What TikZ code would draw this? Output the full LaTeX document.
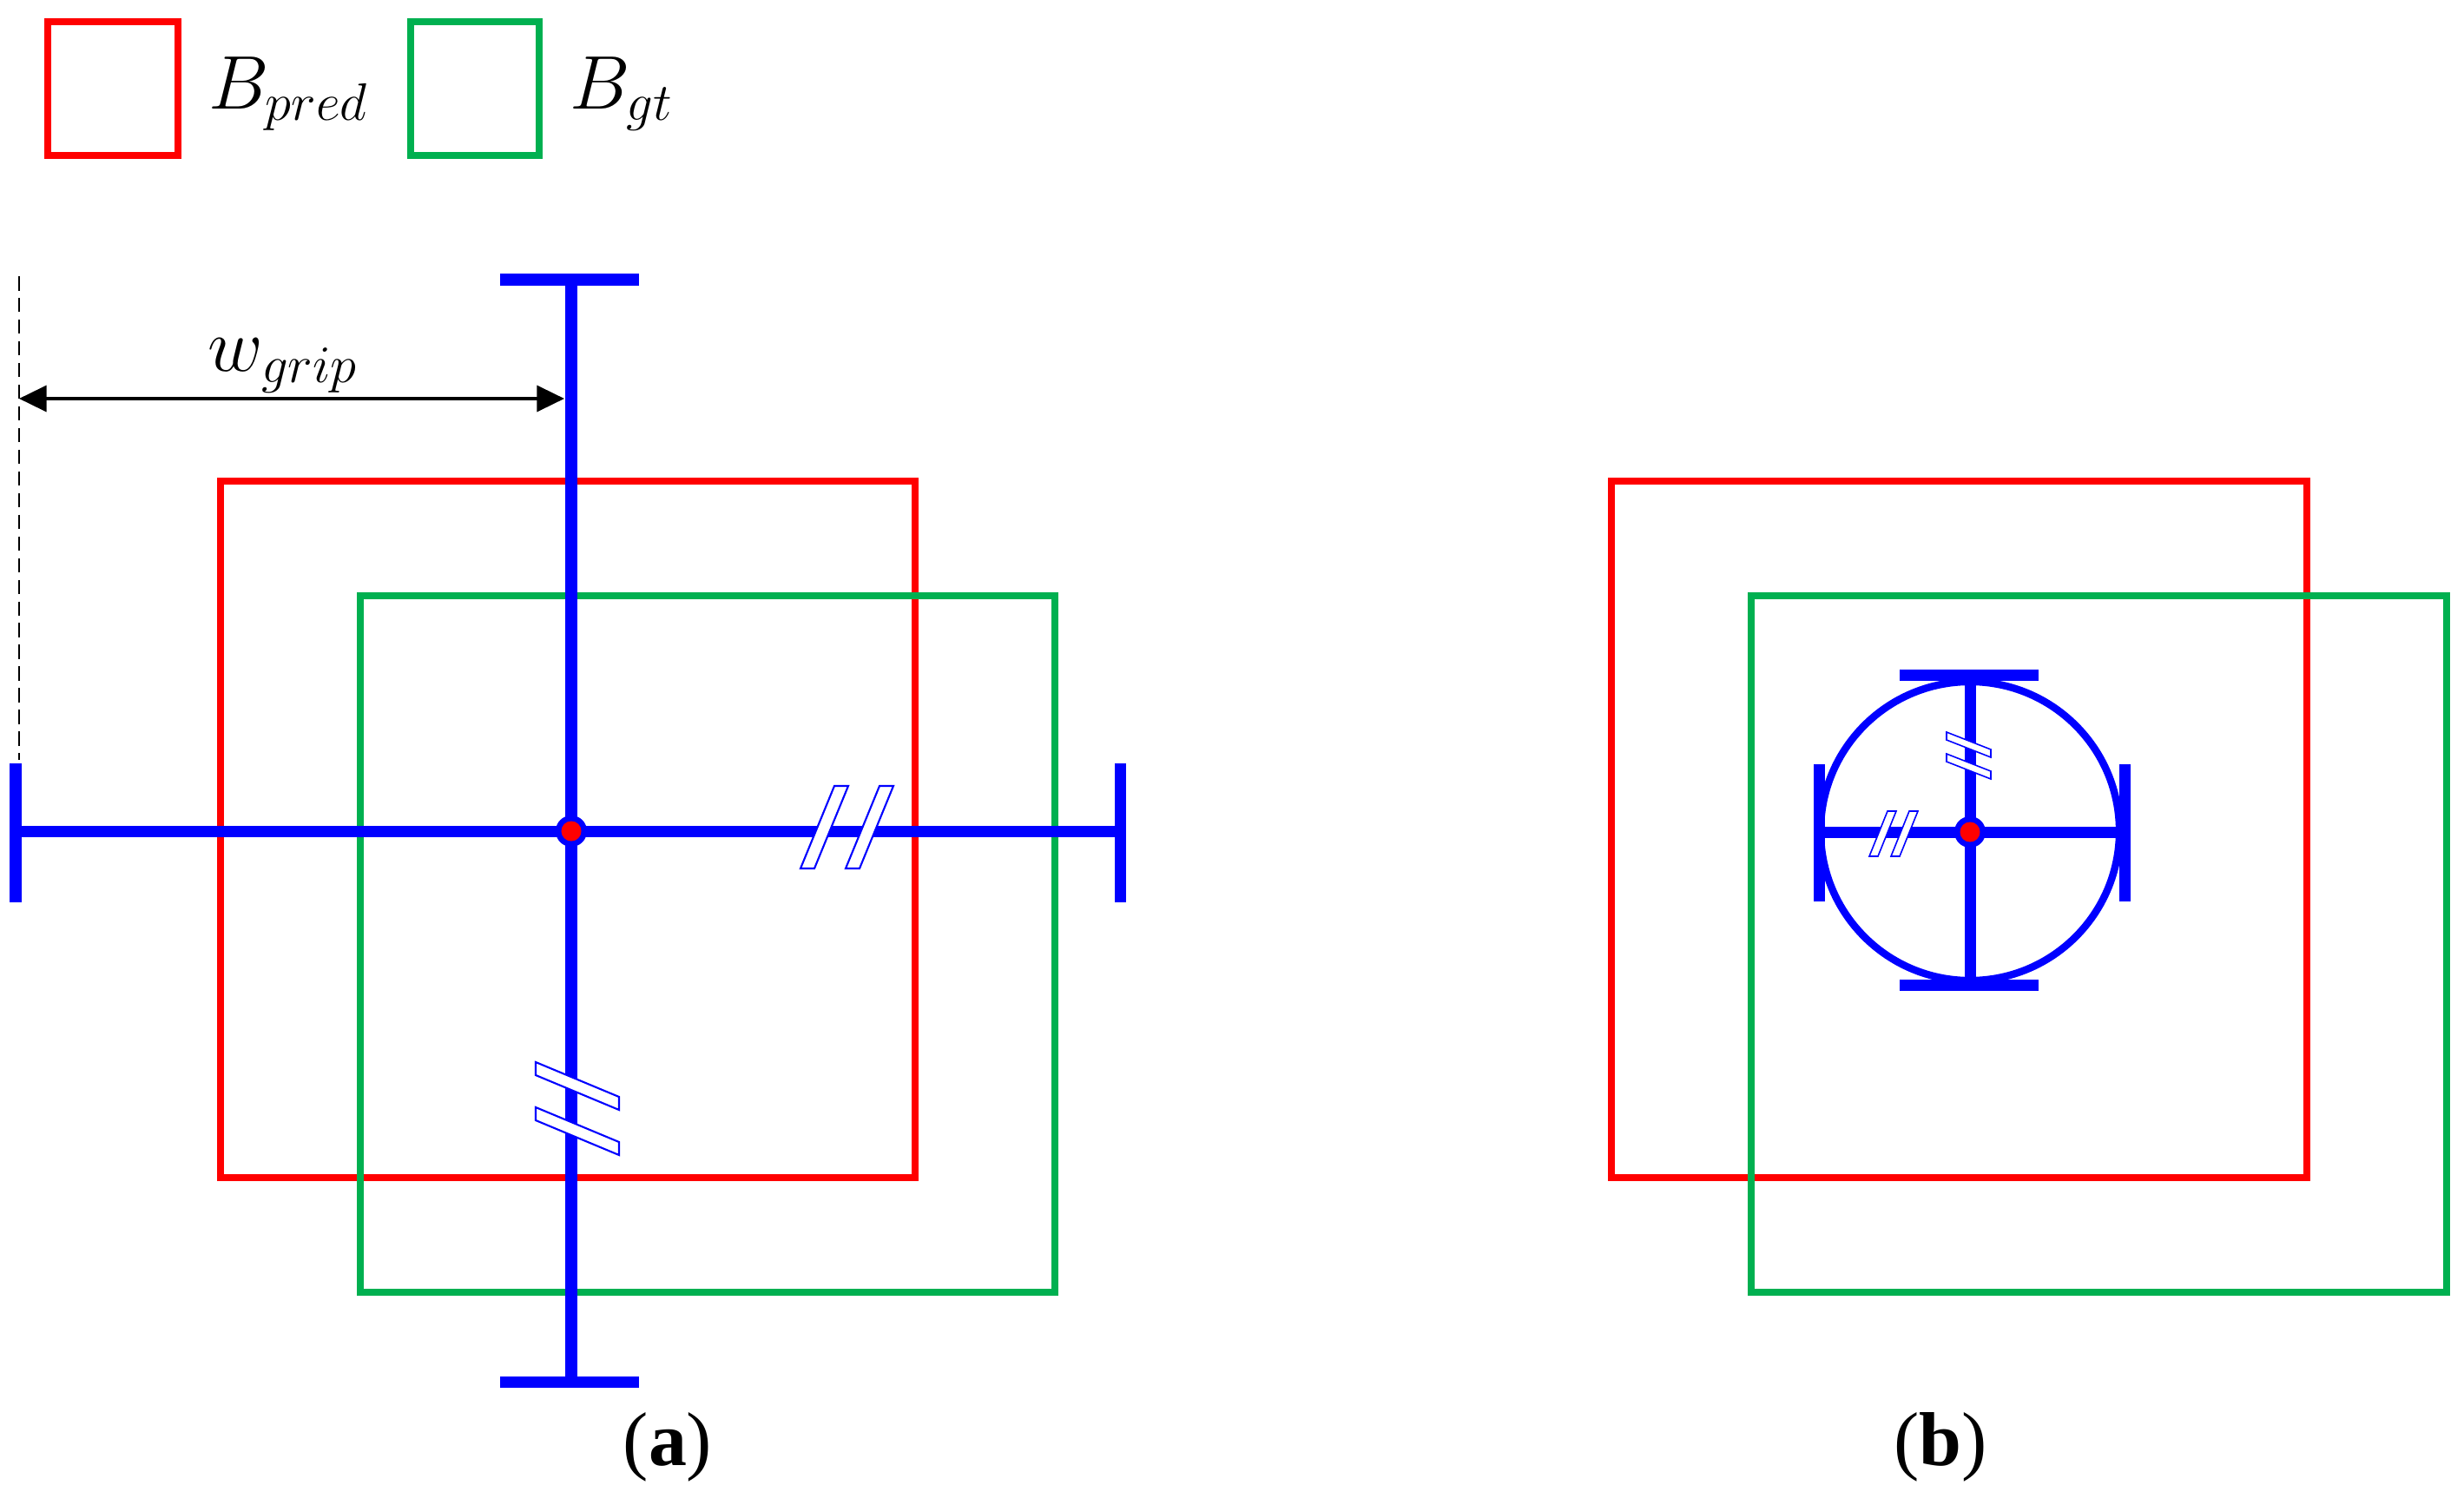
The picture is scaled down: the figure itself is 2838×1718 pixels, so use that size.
\documentclass[tikz,border=0pt]{standalone}
\usepackage{fontspec}
\setmainfont{Liberation Serif}
\usetikzlibrary{arrows.meta}
\definecolor{predred}{RGB}{255,0,0}
\definecolor{gtgreen}{RGB}{0,176,80}
\definecolor{gblue}{RGB}{0,0,255}
\begin{document}
\begin{tikzpicture}[x=0.01cm,y=-0.01cm,
  boxpred/.style={draw=predred,line width=2.3pt},
  boxgt/.style={draw=gtgreen,line width=2.3pt},
  grip/.style={draw=gblue,line width=3.7pt},
  brk/.style={draw=gblue,fill=white,line width=0.6pt,line join=miter},
  brksmall/.style={draw=gblue,fill=white,line width=0.45pt,line join=miter},
  lbl/.style={font=\fontsize{25}{30}\selectfont,inner sep=0pt},
  capt/.style={font=\fontsize{25}{30}\selectfont,inner sep=0pt}]
\useasboundingbox (0,0) rectangle (2838,1718);

% legend
\draw[boxpred] (55,25) rectangle (205,179);
\node[lbl,anchor=base west] (legpred) at (240,125) {$B_{pred}$};
\draw[boxgt] (473,25) rectangle (621,179);
\node[lbl,anchor=base west] (leggt) at (656,125) {$B_{gt}$};

% ---------- panel (a) ----------
\draw[boxpred] (254,554) rectangle (1054,1356);
\draw[boxgt] (415,686) rectangle (1215,1488);

\coordinate (ca) at (658,957);
\coordinate (atop) at (658,322);
\coordinate (abot) at (658,1591);
\coordinate (aleft) at (18,957);
\coordinate (aright) at (1290,957);

\draw[grip] (atop) -- (abot);
\draw[grip] (aleft) -- (aright);
\draw[grip] (576,322) -- (736,322);
\draw[grip] (576,1591) -- (736,1591);
\draw[grip] (18,879) -- (18,1039);
\draw[grip] (1290,879) -- (1290,1039);

% break marks (a)
\draw[brk] (922,1000) -- (938,1000) -- (977,905) -- (961,905) -- cycle;
\draw[brk] (974,1000) -- (990,1000) -- (1029,905) -- (1013,905) -- cycle;
\draw[brk] (617,1223) -- (713,1263) -- (713,1278) -- (617,1238) -- cycle;
\draw[brk] (617,1275) -- (713,1315) -- (713,1330) -- (617,1290) -- cycle;

\fill[gblue] (ca) circle (0.18cm);
\fill[predred] (ca) circle (0.115cm);

% dimension
\coordinate (dtop) at (22,318);
\coordinate (dbot) at (22,875);
\draw[black,line width=0.6pt,dash pattern=on 4.7pt off 2.4pt] (dtop) -- (dbot);
\coordinate (arL) at (22,459);
\coordinate (arR) at (650,459);
\draw[black,line width=1.1pt,{Triangle[length=9pt,width=8.5pt]}-{Triangle[length=9pt,width=8.5pt]}] (arL) -- (arR);
\node[lbl,anchor=base] (wgrip) at (326,427) {$w_{grip}$};

\node[capt,anchor=base] (capa) at (769,1687) {(\textbf{a})};

% ---------- panel (b) ----------
\draw[boxpred] (1856,554) rectangle (2657,1356);
\draw[boxgt] (2017,686) rectangle (2818,1488);

\coordinate (cb) at (2269,958);
\draw[gblue,line width=2.4pt] (2269,957) circle (1.72cm);
\draw[grip] (2269,777) -- (2269,1134);
\draw[grip] (2095,958) -- (2447,958);
\draw[grip] (2188,777) -- (2348,777);
\draw[grip] (2188,1134) -- (2348,1134);
\draw[grip] (2095,880) -- (2095,1038);
\draw[grip] (2447,880) -- (2447,1038);

\draw[brksmall] (2242,843) -- (2293,863) -- (2293,872) -- (2242,852) -- cycle;
\draw[brksmall] (2242,868) -- (2293,888) -- (2293,897) -- (2242,877) -- cycle;
\draw[brksmall] (2153,986) -- (2163,986) -- (2184,934) -- (2174,934) -- cycle;
\draw[brksmall] (2178,986) -- (2188,986) -- (2209,934) -- (2199,934) -- cycle;

\fill[gblue] (cb) circle (0.18cm);
\fill[predred] (cb) circle (0.115cm);

\node[capt,anchor=base] (capb) at (2235,1687) {(\textbf{b})};
\end{tikzpicture}
\end{document}
